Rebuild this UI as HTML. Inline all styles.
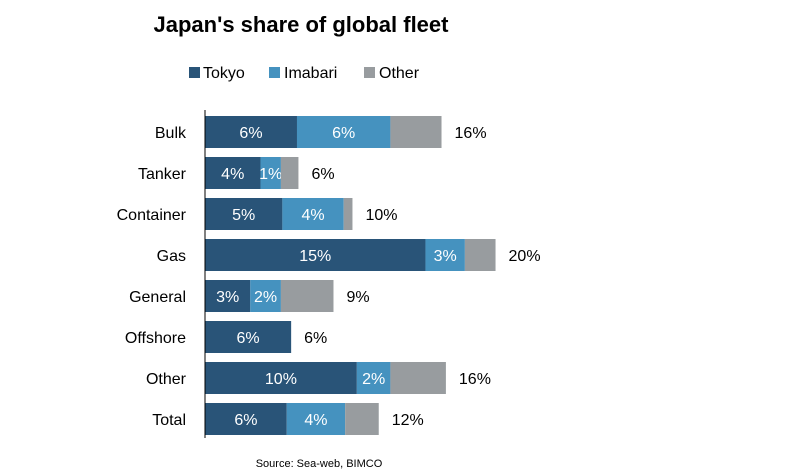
<!DOCTYPE html>
<html><head><meta charset="utf-8"><style>
body{margin:0;background:#fff;width:800px;height:471px;overflow:hidden;font-family:"Liberation Sans",sans-serif}
svg text{font-family:"Liberation Sans",sans-serif}
</style></head><body>
<svg id="chart" width="800" height="471" viewBox="0 0 800 471">
<text x="301" y="32" font-size="22" font-weight="bold" text-anchor="middle" fill="#000">Japan's share of global fleet</text>
<g>
<g><rect x="189" y="67" width="11" height="11" fill="#295478"/><text x="203" y="78" font-size="16">Tokyo</text></g>
<g><rect x="269" y="67" width="11" height="11" fill="#4592bf"/><text x="284" y="78" font-size="16">Imabari</text></g>
<g><rect x="364" y="67" width="11" height="11" fill="#989c9f"/><text x="379" y="78" font-size="16">Other</text></g>
</g>
<g id="bars"></g>
<line x1="205" y1="110" x2="205" y2="438" stroke="#000" stroke-width="1"/>
<text x="319" y="467" font-size="11" text-anchor="middle">Source: Sea-web, BIMCO</text>
</svg>
<script>
const categories=["Bulk","Tanker","Container","Gas","General","Offshore","Other","Total"];
const tokyo=[6.3,3.8,5.3,15.1,3.1,5.9,10.4,5.6];
const imabari=[6.4,1.4,4.2,2.7,2.1,0,2.3,4.0];
const other=[3.5,1.2,0.6,2.1,3.6,0,3.8,2.3];
const tokyoLabels=["6%","4%","5%","15%","3%","6%","10%","6%"];
const imabariLabels=["6%","1%","4%","3%","2%","","2%","4%"];
const totalLabels=["16%","6%","10%","20%","9%","6%","16%","12%"];
const x0=205,pxPer=14.6,y0=132,step=41,bh=32;
const xs=v=>v*pxPer;
const ys=i=>y0+i*step;
const g=document.getElementById('bars');
const NS="http://www.w3.org/2000/svg";
function mk(tag,attrs){const e=document.createElementNS(NS,tag);for(const k in attrs)e.setAttribute(k,attrs[k]);return e;}
const series=[[tokyo,"#295478","tokyo",tokyoLabels],[imabari,"#4592bf","imabari",imabariLabels],[other,"#989c9f","other",null]];
categories.forEach((c,i)=>{
  const cy=ys(i);
  const lab=mk('text',{x:186,y:cy+6,'font-size':16,'text-anchor':'end'});
  
  
  lab.textContent=c;g.appendChild(lab);
  let x=x0;
  series.forEach(([arr,col,nm,labs])=>{
    const w=xs(arr[i]);
    if(w>0){
      const r=mk('rect',{x:x,y:cy-bh/2,width:w,height:bh,fill:col});
      
      
      g.appendChild(r);
      if(labs&&labs[i]){
        const t=mk('text',{x:x+w/2,y:cy+6,'font-size':16,'text-anchor':'middle',fill:'#fff'});
        
        
        t.textContent=labs[i];g.appendChild(t);
      }
    }
    x+=w;
  });
  const tl=mk('text',{x:x+13,y:cy+6,'font-size':16});
  
  
  tl.textContent=totalLabels[i];g.appendChild(tl);
});
</script>
</body></html>
